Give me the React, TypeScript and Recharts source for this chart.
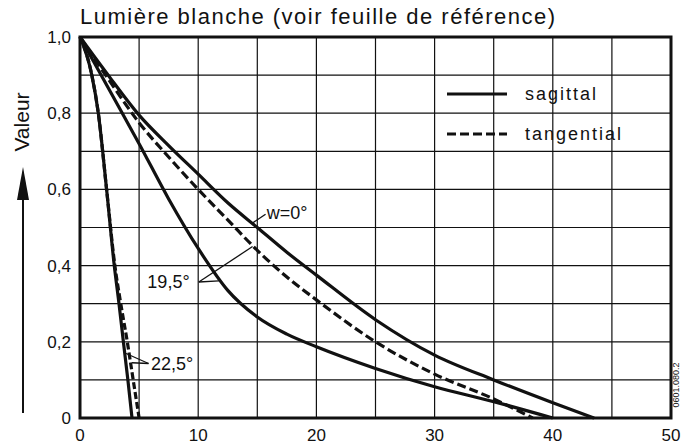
import React from "react";
import {
  LineChart,
  Line,
  XAxis,
  YAxis,
  CartesianGrid,
  ReferenceArea,
  ReferenceLine,
  ReferenceDot,
} from "recharts";

const xTicks = [0, 5, 10, 15, 20, 25, 30, 35, 40, 45, 50];
const yTicks = [0, 0.1, 0.2, 0.3, 0.4, 0.5, 0.6, 0.7, 0.8, 0.9, 1.0];

// w = 0°
const w0X = [0, 2.5, 5, 7.5, 10, 12.5, 15, 17.5, 20, 25, 30, 35, 40, 43.5];
const w0Sag = [1.0, 0.895, 0.795, 0.715, 0.64, 0.565, 0.5, 0.435, 0.375, 0.258, 0.165, 0.1, 0.04, 0];

// 19,5°
const w195SagX = [0, 2.5, 5, 7.5, 10, 12.5, 15, 17.5, 20, 25, 30, 35, 40];
const w195Sag = [1.0, 0.86, 0.72, 0.575, 0.445, 0.335, 0.265, 0.22, 0.187, 0.13, 0.082, 0.043, 0];
const w195TanX = [0, 2.5, 5, 7.5, 10, 12.5, 15, 17.5, 20, 25, 30, 35, 38.3];
const w195Tan = [1.0, 0.885, 0.775, 0.685, 0.6, 0.52, 0.44, 0.37, 0.31, 0.2, 0.115, 0.05, 0];

// 22,5°
const w225Y = [1.0, 0.9, 0.8, 0.6, 0.4, 0.3, 0.2, 0.1, 0];
const w225SagX = [0, 1, 1.55, 2.25, 2.9, 3.3, 3.67, 4.05, 4.4];
const w225TanX = [0, 1, 1.55, 2.25, 2.95, 3.45, 4.0, 4.5, 5.0];

const toPoints = (xs: number[], ys: number[]) => xs.map((x, i) => ({ x, y: ys[i] }));

const FONT = '"Liberation Sans", Arial, sans-serif';
const INK = "#111";

const fmtY = (v: number) => {
  const r = Math.round(v * 10);
  if (r % 2 !== 0) return "";
  return r === 0 ? "0" : (r / 10).toFixed(1).replace(".", ",");
};
const fmtX = (v: number) => (v % 10 === 0 ? String(v) : "");

const LegendBox = () => (
  <div
    style={{
      position: "absolute",
      left: 447,
      top: 74,
      fontFamily: FONT,
      fontSize: 18,
      color: INK,
      letterSpacing: 2,
      whiteSpace: "nowrap",
    }}
  >
    <div style={{ display: "flex", alignItems: "center", height: 40 }}>
      <svg width={78} height={10}>
        <line x1={0} y1={5} x2={60} y2={5} stroke={INK} strokeWidth={3.2} />
      </svg>
      <span>sagittal</span>
    </div>
    <div style={{ display: "flex", alignItems: "center", height: 40 }}>
      <svg width={78} height={10}>
        <line x1={0} y1={5} x2={60} y2={5} stroke={INK} strokeWidth={3.2} strokeDasharray="9 4" />
      </svg>
      <span>tangential</span>
    </div>
  </div>
);

const textShape = (label: string) => (p: any) => (
  <text x={p.cx} y={p.cy} dy="0.35em" fontFamily={FONT} fontSize={18} fill={INK}>
    {label}
  </text>
);

export default function App() {
  return (
    <div
      style={{
        position: "absolute",
        left: 0,
        top: 0,
        width: 682,
        height: 447,
        background: "#fff",
        overflow: "hidden",
      }}
    >
      <div
        style={{
          position: "absolute",
          left: 80,
          top: 4,
          fontFamily: FONT,
          fontSize: 22,
          letterSpacing: 1.5,
          color: INK,
          whiteSpace: "nowrap",
        }}
      >
        Lumière blanche (voir feuille de référence)
      </div>

      <svg width={60} height={447} style={{ position: "absolute", left: 0, top: 0 }}>
        <text
          transform="translate(29,122) rotate(-90)"
          textAnchor="middle"
          fontFamily={FONT}
          fontSize={21}
          fill={INK}
        >
          Valeur
        </text>
        <line x1={23} y1={413} x2={23} y2={195} stroke={INK} strokeWidth={2} />
        <polygon points="23,167 17,200 29,200" fill={INK} />
      </svg>

      <LineChart
        width={682}
        height={447}
        margin={{ top: 37, right: 11, bottom: 0, left: 0 }}
        style={{ position: "absolute", left: 0, top: 0 }}
      >
        <CartesianGrid
          stroke={INK}
          strokeWidth={1.2}
          horizontalValues={yTicks}
          verticalValues={xTicks}
        />
        <XAxis
          dataKey="x"
          type="number"
          domain={[0, 50]}
          ticks={xTicks}
          tickFormatter={fmtX}
          interval={0}
          height={29}
          tickLine={false}
          axisLine={false}
          tickMargin={5}
          tick={{ fill: INK, fontSize: 17, fontFamily: FONT }}
        />
        <YAxis
          type="number"
          domain={[0, 1]}
          ticks={yTicks}
          tickFormatter={fmtY}
          interval={0}
          width={80}
          tickLine={false}
          axisLine={false}
          tickMargin={3}
          tick={{ fill: INK, fontSize: 17, fontFamily: FONT }}
        />
        <ReferenceArea
          x1={0}
          x2={50}
          y1={0}
          y2={1}
          fill="none"
          stroke={INK}
          strokeWidth={3}
          ifOverflow="visible"
        />

        <Line
          data={toPoints(w0X, w0Sag)}
          dataKey="y"
          type="monotone"
          stroke={INK}
          strokeWidth={3.2}
          dot={false}
          isAnimationActive={false}
        />
        <Line
          data={toPoints(w195SagX, w195Sag)}
          dataKey="y"
          type="monotone"
          stroke={INK}
          strokeWidth={3.2}
          dot={false}
          isAnimationActive={false}
        />
        <Line
          data={toPoints(w195TanX, w195Tan)}
          dataKey="y"
          type="monotone"
          stroke={INK}
          strokeWidth={3.2}
          strokeDasharray="9 4"
          dot={false}
          isAnimationActive={false}
        />
        <Line
          data={toPoints(w225SagX, w225Y)}
          dataKey="y"
          type="monotone"
          stroke={INK}
          strokeWidth={3.2}
          dot={false}
          isAnimationActive={false}
        />
        <Line
          data={toPoints(w225TanX, w225Y)}
          dataKey="y"
          type="monotone"
          stroke={INK}
          strokeWidth={3.2}
          strokeDasharray="7 3"
          dot={false}
          isAnimationActive={false}
        />

        {/* leader lines */}
        <ReferenceLine
          segment={[{ x: 15.7, y: 0.535 }, { x: 14.6, y: 0.512 }]}
          stroke={INK}
          strokeWidth={1.3}
          ifOverflow="visible"
        />
        <ReferenceLine
          segment={[{ x: 10.05, y: 0.357 }, { x: 11.75, y: 0.36 }]}
          stroke={INK}
          strokeWidth={1.3}
          ifOverflow="visible"
        />
        <ReferenceLine
          segment={[{ x: 10.05, y: 0.357 }, { x: 14.6, y: 0.45 }]}
          stroke={INK}
          strokeWidth={1.3}
          ifOverflow="visible"
        />
        <ReferenceLine
          segment={[{ x: 5.8, y: 0.143 }, { x: 3.85, y: 0.17 }]}
          stroke={INK}
          strokeWidth={1.3}
          ifOverflow="visible"
        />
        <ReferenceLine
          segment={[{ x: 5.8, y: 0.143 }, { x: 4.4, y: 0.145 }]}
          stroke={INK}
          strokeWidth={1.3}
          ifOverflow="visible"
        />

        <ReferenceDot x={15.8} y={0.54} ifOverflow="visible" shape={textShape("w=0°")} />
        <ReferenceDot x={5.7} y={0.357} ifOverflow="visible" shape={textShape("19,5°")} />
        <ReferenceDot x={6.0} y={0.143} ifOverflow="visible" shape={textShape("22,5°")} />
      </LineChart>

      <LegendBox />

      <svg width={20} height={90} style={{ position: "absolute", left: 668, top: 340 }}>
        <text
          transform="translate(11,45) rotate(-90)"
          textAnchor="middle"
          fontFamily={FONT}
          fontSize={9}
          fill={INK}
        >
          0601.080.2
        </text>
      </svg>
    </div>
  );
}
